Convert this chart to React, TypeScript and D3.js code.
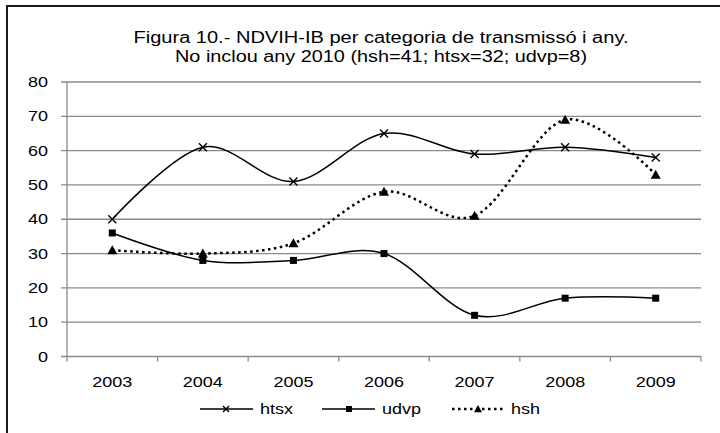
import React from "react";
import * as d3 from "d3";

const years = ["2003", "2004", "2005", "2006", "2007", "2008", "2009"];
const htsx = [40, 61, 51, 65, 59, 61, 58];
const udvp = [36, 28, 28, 30, 12, 17, 17];
const hsh = [31, 30, 33, 48, 41, 69, 53];
const yTicks = [0, 10, 20, 30, 40, 50, 60, 70, 80];
const titleLines = [
  "Figura  10.- NDVIH-IB  per categoria de transmissó i any.",
  "No inclou any 2010  (hsh=41;  htsx=32; udvp=8)",
];
const titleLens = [495, 412];

const W = 720, H = 433;
const left = 67, right = 701, top = 82, bottom = 356.5;
const font = "'Liberation Sans', Arial, sans-serif";
const SX = 1.2;

function T({ x, y, anchor = "start", size = 15, children }: any) {
  return (
    <text
      transform={`translate(${x},${y}) scale(${SX},1)`}
      textAnchor={anchor}
      fontSize={size}
      fill="#000"
    >
      {children}
    </text>
  );
}

export default function App() {
  const x = d3.scaleBand().domain(years).range([left, right]);
  const y = d3.scaleLinear().domain([0, 80]).range([bottom, top]);
  const cx = (i: number) => (x(years[i]) as number) + x.bandwidth() / 2;
  const line = d3
    .line<number>()
    .x((_, i) => cx(i))
    .y((d) => y(d))
    .curve(d3.curveCardinal.tension(0));

  const cross = (px: number, py: number, s = 4, k = "") => (
    <g key={k} stroke="#000" strokeWidth={1.4}>
      <line x1={px - s} y1={py - s} x2={px + s} y2={py + s} />
      <line x1={px - s} y1={py + s} x2={px + s} y2={py - s} />
    </g>
  );
  const square = (px: number, py: number, s = 3.5, k = "") => (
    <rect key={k} x={px - s} y={py - s} width={2 * s} height={2 * s} fill="#000" />
  );
  const tri = (px: number, py: number, s = 5, k = "") => (
    <path key={k} d={`M${px},${py - s}L${px + s},${py + s * 0.8}L${px - s},${py + s * 0.8}Z`} fill="#000" />
  );

  const legY = 409;
  return (
    <svg width={W} height={H} style={{ position: "absolute", left: 0, top: 0 }} fontFamily={font}>
      <rect x={0} y={0} width={W} height={H} fill="#fff" />
      <path d={`M7,${H + 5}V6H${W + 5}`} fill="none" stroke="#1a1a1a" strokeWidth={2} />
      {titleLines.map((t, i) => (
        <text
          key={i}
          x={381}
          y={43 + i * 19}
          textAnchor="middle"
          fontSize={16}
          fill="#000"
          textLength={titleLens[i]}
          lengthAdjust="spacingAndGlyphs"
        >
          {t}
        </text>
      ))}
      {yTicks.map((t) => (
        <g key={t}>
          <line x1={left - 6} x2={right} y1={y(t)} y2={y(t)} stroke="#8a8a8a" strokeWidth={1.3} />
          <T x={48} y={y(t) + 5} anchor="end">{t}</T>
        </g>
      ))}
      <line x1={left} x2={left} y1={top} y2={bottom} stroke="#8a8a8a" strokeWidth={1.3} />
      {years.map((yr) => (
        <line key={"t" + yr} x1={x(yr)} x2={x(yr)} y1={bottom} y2={bottom + 5} stroke="#8a8a8a" strokeWidth={1.3} />
      ))}
      <line x1={right} x2={right} y1={bottom} y2={bottom + 5} stroke="#8a8a8a" strokeWidth={1.3} />
      {years.map((yr, i) => (
        <T key={yr} x={cx(i)} y={bottom + 30} anchor="middle">{yr}</T>
      ))}
      <path d={line(htsx) || ""} fill="none" stroke="#000" strokeWidth={1.5} />
      <path d={line(udvp) || ""} fill="none" stroke="#000" strokeWidth={1.5} />
      <path d={line(hsh) || ""} fill="none" stroke="#000" strokeWidth={2.5} strokeDasharray="2.5 3.5" />
      {htsx.map((v, i) => cross(cx(i), y(v), 4, "c" + i))}
      {udvp.map((v, i) => square(cx(i), y(v), 3.5, "s" + i))}
      {hsh.map((v, i) => tri(cx(i), y(v), 5, "h" + i))}
      <line x1={200} x2={253} y1={legY} y2={legY} stroke="#000" strokeWidth={1.5} />
      {cross(226, legY, 3, "lc")}
      <T x={260} y={legY + 5}>htsx</T>
      <line x1={322} x2={375} y1={legY} y2={legY} stroke="#000" strokeWidth={1.5} />
      {square(349, legY, 3, "ls")}
      <T x={382} y={legY + 5}>udvp</T>
      <line x1={452} x2={505} y1={legY} y2={legY} stroke="#000" strokeWidth={2.5} strokeDasharray="2.5 3.5" />
      {tri(478, legY, 4, "lt")}
      <T x={511} y={legY + 5}>hsh</T>
    </svg>
  );
}
